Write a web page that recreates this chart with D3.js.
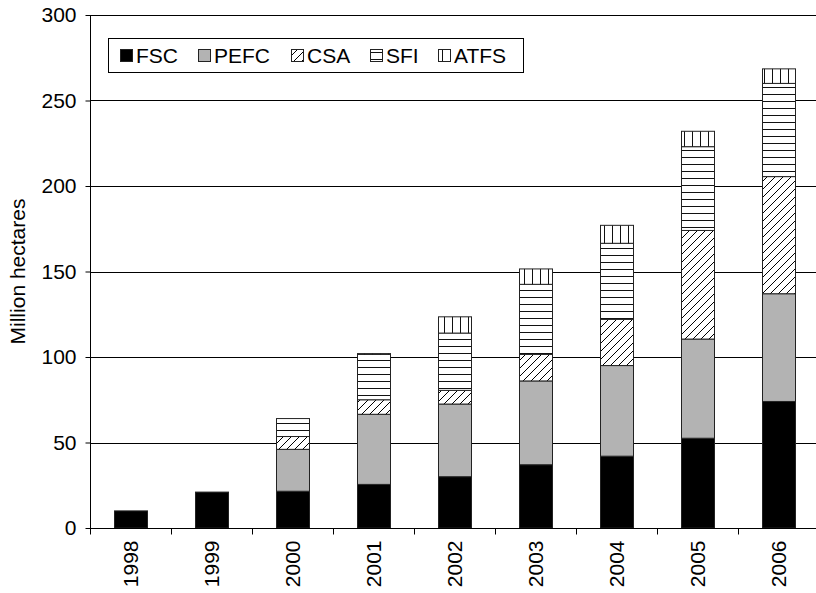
<!DOCTYPE html>
<html>
<head>
<meta charset="utf-8">
<script src="https://cdn.jsdelivr.net/npm/d3@7"></script>
<style>
  html, body { margin: 0; padding: 0; background: #fff; }
  svg { display: block; font-family: "Liberation Sans", Arial, sans-serif; }
</style>
</head>
<body>
<svg id="chart" width="816" height="593"></svg>
<script>
// ---- data ----
const years = ["1998", "1999", "2000", "2001", "2002", "2003", "2004", "2005", "2006"];
const seriesNames = ["FSC", "PEFC", "CSA", "SFI", "ATFS"];
const FSC  = [10, 21, 21.5, 25.5, 30, 37, 42, 52.5, 74];
const PEFC = [0, 0, 24.5, 41, 42.5, 49, 53, 58, 63];
const CSA  = [0, 0, 7.5, 8.5, 8, 15.5, 27, 63.5, 68.5];
const SFI  = [0, 0, 10.5, 26.5, 33.5, 41, 44.5, 49, 54.5];
const ATFS = [0, 0, 0, 0.5, 9.5, 9, 10.5, 9, 8.5];
const yTicks = [0, 50, 100, 150, 200, 250, 300];
const yLabel = "Million hectares";

const seriesValues = { FSC, PEFC, CSA, SFI, ATFS };
const rows = years.map((yr, i) => {
  const r = { year: yr };
  seriesNames.forEach(s => r[s] = seriesValues[s][i]);
  return r;
});

// ---- layout ----
const svg = d3.select("#chart");
const pL = 90, pR = 819, pT = 15, pB = 528;
const FS = 21;

const x = d3.scaleBand().domain(years).range([pL, pR]).paddingInner(0.59).paddingOuter(0.295);
const y = d3.scaleLinear().domain([0, 300]).range([pB, pT]);

// ---- patterns ----
const defs = svg.append("defs");
const pCSA = defs.append("pattern").attr("id", "pCSA").attr("patternUnits", "userSpaceOnUse")
  .attr("width", 8).attr("height", 8);
pCSA.append("rect").attr("width", 8).attr("height", 8).attr("fill", "#fff");
pCSA.append("path").attr("d", "M-2,2 L2,-2 M0,8 L8,0 M6,10 L10,6")
  .attr("stroke", "#000").attr("stroke-width", 1);

const pSFI = defs.append("pattern").attr("id", "pSFI").attr("patternUnits", "userSpaceOnUse")
  .attr("width", 8).attr("height", 7);
pSFI.append("rect").attr("width", 8).attr("height", 7).attr("fill", "#fff");
pSFI.append("line").attr("x1", 0).attr("x2", 8).attr("y1", 3.5).attr("y2", 3.5)
  .attr("stroke", "#111").attr("stroke-width", 1);

const pATFS = defs.append("pattern").attr("id", "pATFS").attr("patternUnits", "userSpaceOnUse")
  .attr("width", 8).attr("height", 8);
pATFS.append("rect").attr("width", 8).attr("height", 8).attr("fill", "#fff");
pATFS.append("line").attr("x1", 4.5).attr("x2", 4.5).attr("y1", 0).attr("y2", 8)
  .attr("stroke", "#111").attr("stroke-width", 1);

const fills = { FSC: "#000", PEFC: "#b3b3b3", CSA: "url(#pCSA)", SFI: "url(#pSFI)", ATFS: "url(#pATFS)" };

// ---- gridlines ----
svg.append("g").selectAll("line").data(yTicks.filter(t => t > 0)).join("line")
  .attr("x1", pL).attr("x2", pR)
  .attr("y1", d => Math.round(y(d)) + 0.5).attr("y2", d => Math.round(y(d)) + 0.5)
  .attr("stroke", "#000").attr("stroke-width", 1);

// ---- bars ----
const stacked = d3.stack().keys(seriesNames)(rows);
svg.append("g").selectAll("g").data(stacked).join("g")
  .attr("fill", d => fills[d.key])
  .selectAll("rect").data(d => d.filter(s => s[1] - s[0] > 0)).join("rect")
  .attr("x", d => Math.round(x(d.data.year)) + 0.5)
  .attr("width", Math.round(x.bandwidth()))
  .attr("y", d => y(d[1]))
  .attr("height", d => y(d[0]) - y(d[1]))
  .attr("stroke", "#222").attr("stroke-width", 1);

// ---- axes ----
const yAxis = svg.append("g").attr("transform", `translate(${pL + 0.5},0)`)
  .call(d3.axisLeft(y).tickValues(yTicks).tickSize(5).tickPadding(9));
yAxis.select(".domain").attr("d", `M0,${pT} V${pB + 6}`).attr("stroke", "#000");
yAxis.selectAll(".tick line").attr("stroke", "#000");
yAxis.selectAll("text").attr("font-size", FS).attr("fill", "#000")
  .attr("font-family", "'Liberation Sans', Arial, sans-serif");

const xAxis = svg.append("g").attr("transform", `translate(0,${pB + 0.5})`);
xAxis.append("line").attr("x1", pL).attr("x2", pR).attr("stroke", "#000");
const bandEdges = years.map((d, i) => pL + i * (pR - pL) / years.length);
xAxis.selectAll(".xt").data(bandEdges).join("line").attr("class", "xt")
  .attr("x1", d => Math.round(d) + 0.5).attr("x2", d => Math.round(d) + 0.5)
  .attr("y1", 0).attr("y2", 6).attr("stroke", "#000");
xAxis.selectAll("text.xl").data(years).join("text").attr("class", "xl")
  .attr("transform", d => `translate(${x(d) + x.bandwidth() / 2},12) rotate(-90)`)
  .attr("text-anchor", "end").attr("dy", "0.35em")
  .attr("font-size", FS).attr("fill", "#000").text(d => d);

// y label
svg.append("text")
  .attr("transform", `translate(25,${(pT + pB) / 2}) rotate(-90)`)
  .attr("text-anchor", "middle").attr("font-size", FS).attr("fill", "#000")
  .text(yLabel);

// ---- legend ----
const lg = svg.append("g");
lg.append("rect").attr("x", 108.5).attr("y", 38.5).attr("width", 415).attr("height", 34)
  .attr("fill", "#fff").attr("stroke", "#000").attr("stroke-width", 1);
const legendX = [120, 198, 291, 370, 438];
seriesNames.forEach((s, i) => {
  const g = lg.append("g").attr("transform", `translate(${legendX[i]},0)`);
  g.append("rect").attr("x", 0.5).attr("y", 49.5).attr("width", 12).attr("height", 12)
    .attr("fill", fills[s]).attr("stroke", "#222").attr("stroke-width", 1);
  g.append("text").attr("x", 16).attr("y", 56).attr("dy", "0.35em")
    .attr("font-size", FS).attr("fill", "#000").text(s);
});
</script>
</body>
</html>
